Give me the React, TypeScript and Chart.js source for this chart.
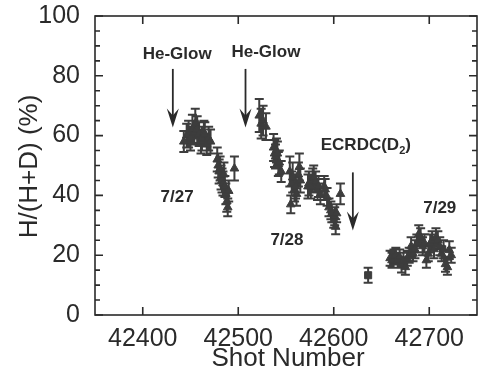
import React, { useEffect, useRef } from "react";
import { Chart, registerables } from "chart.js";

Chart.register(...registerables);

// Shot numbers and H/(H+D) ratio (%)
const shots = [
  42443, 42446, 42448, 42450, 42452, 42454, 42455, 42457, 42459, 42461, 42462, 42464, 42465, 42467, 42469, 42471,
  42478, 42479, 42480, 42481, 42482, 42483, 42484, 42485, 42486, 42487, 42488, 42489, 42490, 42496,
  42522, 42524, 42526, 42529, 42537, 42538, 42539, 42540, 42541, 42542, 42543, 42545,
  42554, 42555, 42556, 42557, 42559, 42560, 42561, 42563, 42564, 42565,
  42573, 42574, 42576, 42578, 42579, 42581, 42583, 42584, 42586, 42590, 42591, 42593, 42595, 42597, 42598, 42600, 42601, 42602, 42603, 42607,
  42636,
  42659, 42661, 42663, 42665, 42667, 42669, 42671, 42673, 42675, 42677, 42679, 42681, 42683, 42685, 42687, 42689, 42691,
  42693, 42695, 42697, 42699, 42701, 42703, 42705, 42707, 42709, 42711, 42713, 42715, 42717, 42719, 42721, 42723,
];
const ratio = [
  58, 60, 60.5, 59, 62, 61, 64, 62, 60.5, 58, 59, 61, 60.5, 57, 59, 58,
  52, 50, 48, 49, 46, 45, 44, 47, 43, 40.5, 38, 36, 41.5, 49,
  66.7, 64, 65, 63, 56, 54, 53, 55, 54, 50.5, 51, 48,
  48, 37, 44, 46, 42, 43, 40.5, 47, 49.5, 45,
  43, 44, 43, 45, 46, 44.5, 42, 43, 40.5, 43, 42, 39.5, 36, 35, 34, 31.7, 33, 29.5, 34, 40.5,
  13.3,
  19, 18.3, 19.4, 20, 18.3, 19.4, 16.7, 18.3, 16, 19, 20, 23, 20.5, 22, 23.9, 27, 26,
  23, 24, 18.3, 20.5, 23.9, 25, 22, 26, 25, 23, 20.5, 22, 17, 16, 21.7, 20,
];
const errors = [
  3.5, 4, 4.5, 4, 5, 4, 5, 4.5, 4, 4, 4, 4, 4, 3.5, 4, 4,
  4, 4, 4, 4, 4, 4, 4, 4, 3.5, 3.5, 3.5, 3, 3.5, 4,
  5.5, 5, 5, 4.5, 4.5, 4.5, 4, 4, 4, 4, 4, 3.5,
  5, 3, 4, 5, 4, 4, 4, 4, 4.5, 4,
  4, 4, 4, 4, 4, 3.5, 3.5, 3.5, 3.5, 3.5, 3.5, 3, 3, 3, 3, 2.5, 3, 2.5, 3, 3.5,
  2.5,
  2.5, 2.5, 2.5, 2.5, 2.5, 2.5, 2.5, 2.5, 2.5, 2.5, 2.5, 3, 2.5, 3, 3, 3, 3,
  3, 3, 2.5, 2.5, 3, 3, 3, 3, 3, 3, 2.5, 3, 2.5, 2.5, 3, 2.5,
];
const pointShapes = shots.map((s) => (s === 42636 ? "rect" : "triangle"));

const xTicks = [42400, 42500, 42600, 42700];
const yTicks = [0, 20, 40, 60, 80, 100];
const yMinorTicks = [5, 10, 15, 25, 30, 35, 45, 50, 55, 65, 70, 75, 85, 90, 95];
const xTitle = "Shot Number";
const yTitle = "H/(H+D) (%)";

// Annotations in data coordinates
const labels = [
  { text: "He-Glow", x: 42436, y: 87.3 },
  { text: "He-Glow", x: 42529, y: 87.7 },
  { text: "7/27", x: 42436, y: 39.3 },
  { text: "7/28", x: 42551, y: 25 },
  { text: "7/29", x: 42711, y: 35.7 },
];
const arrows = [
  { x: 42431.5, from: 82.3, to: 62.7 },
  { x: 42507.6, from: 82.3, to: 62.7 },
  { x: 42620, from: 47.7, to: 28.3 },
];
const ecrdc = { main: "ECRDC(D", sub: "2", end: ")", x: 42633.6, y: 56.7 };

const INK = "#2a2a2a";
const MARK = "#3d3d3d";
const FONT = "'Liberation Sans', Arial, Helvetica, sans-serif";

const decorPlugin = {
  id: "decor",
  beforeDatasetsDraw(chart: any) {
    const { ctx, chartArea, scales } = chart;
    const xs = scales.x;
    const ys = scales.y;
    ctx.save();
    ctx.strokeStyle = INK;
    ctx.lineWidth = 1.6;
    ctx.strokeRect(chartArea.left, chartArea.top, chartArea.right - chartArea.left, chartArea.bottom - chartArea.top);
    ctx.beginPath();
    xTicks.forEach((v) => {
      const px = xs.getPixelForValue(v);
      ctx.moveTo(px, chartArea.bottom);
      ctx.lineTo(px, chartArea.bottom - 8);
      ctx.moveTo(px, chartArea.top);
      ctx.lineTo(px, chartArea.top + 8);
    });
    yTicks.forEach((v) => {
      const py = ys.getPixelForValue(v);
      ctx.moveTo(chartArea.left, py);
      ctx.lineTo(chartArea.left + 8, py);
      ctx.moveTo(chartArea.right, py);
      ctx.lineTo(chartArea.right - 8, py);
    });
    yMinorTicks.forEach((v) => {
      const py = ys.getPixelForValue(v);
      ctx.moveTo(chartArea.left, py);
      ctx.lineTo(chartArea.left + 5, py);
      ctx.moveTo(chartArea.right, py);
      ctx.lineTo(chartArea.right - 5, py);
    });
    ctx.stroke();

    // error bars
    ctx.strokeStyle = MARK;
    ctx.lineWidth = 2;
    ctx.beginPath();
    shots.forEach((s, i) => {
      const px = xs.getPixelForValue(s);
      const top = ys.getPixelForValue(ratio[i] + errors[i]);
      const bot = ys.getPixelForValue(ratio[i] - errors[i]);
      ctx.moveTo(px, top);
      ctx.lineTo(px, bot);
      ctx.moveTo(px - 4.5, top);
      ctx.lineTo(px + 4.5, top);
      ctx.moveTo(px - 4.5, bot);
      ctx.lineTo(px + 4.5, bot);
    });
    ctx.stroke();
    ctx.restore();
  },
  afterDraw(chart: any) {
    const { ctx, scales, chartArea } = chart;
    const xs = scales.x;
    const ys = scales.y;
    ctx.save();
    ctx.fillStyle = INK;
    ctx.strokeStyle = INK;

    // axis titles
    ctx.font = `26px ${FONT}`;
    ctx.textAlign = "center";
    ctx.textBaseline = "alphabetic";
    ctx.fillText(xTitle, (chartArea.left + chartArea.right) / 2 + 2, 366);
    ctx.save();
    ctx.translate(37, (chartArea.top + chartArea.bottom) / 2 + 1);
    ctx.rotate(-Math.PI / 2);
    ctx.fillText(yTitle, 0, 0);
    ctx.restore();

    ctx.textAlign = "center";
    ctx.textBaseline = "middle";
    ctx.font = `bold 17px ${FONT}`;
    labels.forEach((l) => {
      ctx.fillText(l.text, xs.getPixelForValue(l.x), ys.getPixelForValue(l.y));
    });
    const ex = xs.getPixelForValue(ecrdc.x);
    const ey = ys.getPixelForValue(ecrdc.y);
    ctx.font = `bold 17px ${FONT}`;
    const w1 = ctx.measureText(ecrdc.main).width;
    const w3 = ctx.measureText(ecrdc.end).width;
    ctx.font = `bold 11px ${FONT}`;
    const w2 = ctx.measureText(ecrdc.sub).width;
    const total = w1 + w2 + w3;
    let cx = ex - total / 2;
    ctx.textAlign = "left";
    ctx.font = `bold 17px ${FONT}`;
    ctx.fillText(ecrdc.main, cx, ey);
    cx += w1;
    ctx.font = `bold 11px ${FONT}`;
    ctx.fillText(ecrdc.sub, cx, ey + 6);
    cx += w2;
    ctx.font = `bold 17px ${FONT}`;
    ctx.fillText(ecrdc.end, cx, ey);

    arrows.forEach((a) => {
      const px = xs.getPixelForValue(a.x);
      const y1 = ys.getPixelForValue(a.from);
      const y2 = ys.getPixelForValue(a.to);
      ctx.lineWidth = 1.8;
      ctx.beginPath();
      ctx.moveTo(px, y1);
      ctx.lineTo(px, y2 - 6);
      ctx.stroke();
      ctx.beginPath();
      ctx.moveTo(px, y2);
      ctx.lineTo(px - 6, y2 - 19);
      ctx.lineTo(px, y2 - 12);
      ctx.lineTo(px + 6, y2 - 19);
      ctx.closePath();
      ctx.fill();
    });
    ctx.restore();
  },
};

export default function App() {
  const ref = useRef<HTMLCanvasElement | null>(null);
  useEffect(() => {
    document.body.style.margin = "0";
    const canvas = ref.current;
    if (!canvas) return;
    const chart = new Chart(canvas, {
      type: "scatter",
      data: {
        datasets: [
          {
            data: shots.map((s, i) => ({ x: s, y: ratio[i] })),
            pointStyle: pointShapes as any,
            pointRadius: 5,
            pointBackgroundColor: MARK,
            pointBorderColor: MARK,
            pointBorderWidth: 1,
          },
        ],
      },
      options: {
        animation: false,
        responsive: false,
        devicePixelRatio: 1,
        layout: { padding: { top: 16, right: 5, left: 0, bottom: 0 } },
        plugins: { legend: { display: false }, tooltip: { enabled: false } },
        scales: {
          x: {
            type: "linear",
            min: 42350,
            max: 42750,
            afterBuildTicks: (s: any) => {
              s.ticks = xTicks.map((v) => ({ value: v }));
            },
            afterFit: (s: any) => {
              s.height = 56;
              s.paddingLeft = 0;
              s.paddingRight = 0;
            },
            grid: { display: false, drawTicks: false },
            border: { display: false },
            ticks: {
              color: INK,
              font: { family: FONT, size: 25 },
              padding: 9,
              maxRotation: 0,
              autoSkip: false,
              callback: (v: any) => String(v),
            },
            title: { display: false },
          },
          y: {
            type: "linear",
            min: 0,
            max: 100,
            afterBuildTicks: (s: any) => {
              s.ticks = yTicks.map((v) => ({ value: v }));
            },
            afterFit: (s: any) => {
              s.width = 95;
              s.paddingTop = 0;
              s.paddingBottom = 0;
            },
            grid: { display: false, drawTicks: false },
            border: { display: false },
            ticks: {
              color: INK,
              font: { family: FONT, size: 25 },
              padding: 15,
              autoSkip: false,
            },
            title: { display: false },
          },
        },
      },
      plugins: [decorPlugin],
    });
    return () => chart.destroy();
  }, []);
  return (
    <div style={{ width: 483, height: 371, background: "#fff" }}>
      <canvas ref={ref} width={483} height={371} />
    </div>
  );
}
